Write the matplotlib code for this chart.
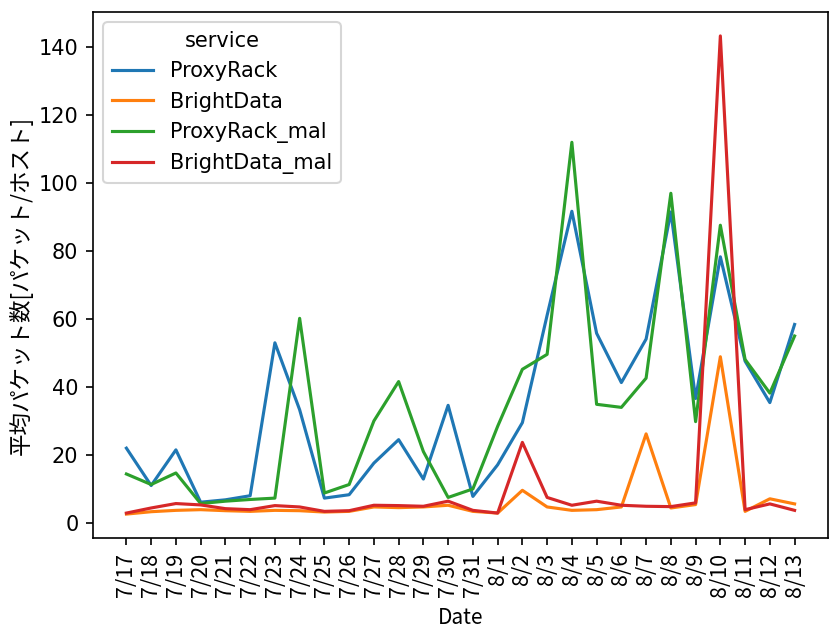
import matplotlib
matplotlib.use("Agg")
import matplotlib.pyplot as plt

dates = ["7/17", "7/18", "7/19", "7/20", "7/21", "7/22", "7/23", "7/24", "7/25", "7/26",
         "7/27", "7/28", "7/29", "7/30", "7/31", "8/1", "8/2", "8/3", "8/4", "8/5",
         "8/6", "8/7", "8/8", "8/9", "8/10", "8/11", "8/12", "8/13"]

proxyrack = [21.9, 10.9, 21.4, 6.0, 6.7, 7.9, 52.9, 33.2, 7.2, 8.2,
             17.5, 24.4, 12.8, 34.5, 7.7, 17.0, 29.4, 61.0, 91.6, 55.7,
             41.2, 54.0, 91.4, 36.5, 78.2, 47.5, 35.3, 58.3]
brightdata = [2.5, 3.2, 3.6, 3.8, 3.5, 3.3, 3.6, 3.5, 3.1, 3.3,
              4.6, 4.4, 4.6, 5.1, 3.3, 2.8, 9.5, 4.6, 3.6, 3.8,
              4.6, 26.1, 4.3, 5.3, 48.8, 3.3, 7.0, 5.5]
proxyrack_mal = [14.3, 11.2, 14.6, 5.6, 6.3, 6.8, 7.2, 60.1, 8.7, 11.2,
                 29.9, 41.5, 20.9, 7.4, 9.9, 28.3, 45.1, 49.5, 111.9, 34.8,
                 33.9, 42.5, 96.9, 29.7, 87.5, 48.0, 38.1, 54.9]
brightdata_mal = [2.8, 4.3, 5.6, 5.2, 4.1, 3.8, 5.0, 4.6, 3.3, 3.5,
                  5.1, 5.0, 4.8, 6.3, 3.6, 2.8, 23.6, 7.4, 5.1, 6.3,
                  5.1, 4.8, 4.7, 5.8, 143.2, 3.8, 5.5, 3.6]

series = [("ProxyRack", proxyrack, "#1f77b4"),
          ("BrightData", brightdata, "#ff7f0e"),
          ("ProxyRack_mal", proxyrack_mal, "#2ca02c"),
          ("BrightData_mal", brightdata_mal, "#d62728")]

jp = ["Noto Sans CJK JP", "DejaVu Sans"]
DPI = 150

fig = plt.figure(figsize=(830 / DPI, 629 / DPI), dpi=DPI)
ax = fig.add_axes([93 / 830, 1 - 538 / 629, (828 - 93) / 830, (538 - 12) / 629])

x = list(range(len(dates)))
for name, vals, color in series:
    ax.plot(x, vals, color=color, lw=1.5, label=name)

ax.set_xticks(x)
ax.set_xticklabels(dates, rotation=90, family=jp, fontsize=10.3)
ax.set_yticks([0, 20, 40, 60, 80, 100, 120, 140])
ax.set_xlabel("Date", family=jp, labelpad=5)
ax.set_ylabel("平均パケット数[パケット/ホスト]", family=jp, fontsize=10.8)
ax.yaxis.set_label_coords(-0.082, 0.48)

leg = ax.legend(title="service", loc="upper left")

fig.savefig("out.png", dpi=DPI)
